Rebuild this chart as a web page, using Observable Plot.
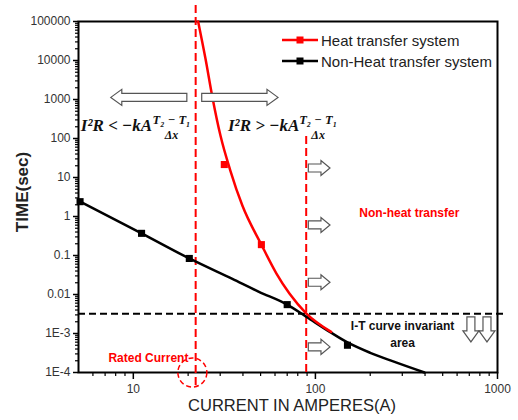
<!DOCTYPE html>
<html><head><meta charset="utf-8">
<script src="https://cdn.jsdelivr.net/npm/d3@7"></script>
<script src="https://cdn.jsdelivr.net/npm/@observablehq/plot@0.6"></script>
<style>
body{margin:0;background:#fff;}
#wrap{position:relative;width:518px;height:420px;}
.leg{position:absolute;left:281px;font-family:"Liberation Sans",Arial,sans-serif;font-size:15px;color:#222;display:flex;align-items:center;white-space:nowrap;height:20px;}
.leg svg{margin-right:2px;}
</style></head><body><div id="wrap"></div>
<script>
// ---- series ----
const heatCurrent = [22.7, 24.9, 27.2, 30.1, 34.1, 39.7, 50.5, 61, 72, 89, 122];
const heatTime    = [1e5, 11250, 1130, 119, 15.1, 1.91, 0.19, 0.035, 0.0106, 0.0033, 0.0011];
const heatMarkCurrent = [31.6, 50.5];
const heatMarkTime    = [21.5, 0.19];
const nonHeatCurrent = [5.1, 11.1, 20.3, 35, 49, 70, 89, 120, 150, 200, 265, 397];
const nonHeatTime    = [2.4, 0.37, 0.084, 0.025, 0.0117, 0.0055, 0.0027, 0.0011, 0.00059, 0.00032, 0.000195, 0.0001];
const nonHeatMarkCurrent = [5.1, 11.1, 20.3, 70, 150];
const nonHeatMarkTime    = [2.4, 0.37, 0.084, 0.0055, 0.0005];
const seriesNames  = ["Heat transfer system", "Non-Heat transfer system"];
const seriesColors = ["#ff0000", "#000000"];
// ---- ticks ----
const xTickValues = [10, 100, 1000];
const xTickLabels = ["10", "100", "1000"];
const xMinorTicks = [6, 7, 8, 9, 20, 30, 40, 50, 60, 70, 80, 90, 200, 300, 400, 500, 600, 700, 800, 900];
const yTickValues = [1e-4, 1e-3, 0.01, 0.1, 1, 10, 100, 1000, 10000, 100000];
const yTickLabels = ["1E-4", "1E-3", "0.01", "0.1", "1", "10", "100", "1000", "10000", "100000"];
const yMinorTicks = yTickValues.slice(0, -1).flatMap(d => [2,3,4,5,6,7,8,9].map(k => +(d*k).toPrecision(3)));
// ---- annotations ----
const ratedCurrent = 22;
const boundaryCurrent = 89, boundaryTop = 135;
const invariantTime = 0.0032;
const ratedCircle = {c: 21.1, t: 1e-4};
const textLabels = [
  {text: "Non-heat transfer", c: 328, t: 1.19, color: "#ff0000"},
  {text: "I-T curve invariant", c: 301, t: 0.0015, color: "#111"},
  {text: "area", c: 301, t: 0.00056, color: "#111"},
  {text: "Rated Current", c: 12.1, t: 0.00024, color: "#ff0000"}
];
const formulaMain = [{text: "I²R < −kA", c: 12.7, t: 215}, {text: "I²R > −kA", c: 81.6, t: 215}];
const formulaFracCurrent = [16.2, 103.5];
const formulaNum = "T₂ − T₁", formulaNumTime = 300;
const formulaDen = "Δx", formulaDenTime = 122;
const longArrows  = [{from: 19.8, to: 7.57, t: 1100}, {from: 23.9, to: 62.7, t: 1100}];
const smallArrowFrom = 92, smallArrowTo = 121;
const smallArrowTimes = [17, 0.59, 0.020, 0.00044];
const downArrowCurrents = [719, 881];
const downArrowFrom = 0.0026, downArrowTo = 0.00059;

const heat = heatCurrent.map((c, i) => ({c, t: heatTime[i]}));
const heatMarks = heatMarkCurrent.map((c, i) => ({c, t: heatMarkTime[i]}));
const nonHeat = nonHeatCurrent.map((c, i) => ({c, t: nonHeatTime[i]}));
const nonHeatMarks = nonHeatMarkCurrent.map((c, i) => ({c, t: nonHeatMarkTime[i]}));
const xLabelOf = new Map(xTickValues.map((v, i) => [v, xTickLabels[i]]));
const yLabelOf = new Map(yTickValues.map((v, i) => [v, yTickLabels[i]]));
const sans = "'Liberation Sans', Arial, sans-serif";
const serif = "'Liberation Serif', 'DejaVu Serif', serif";

const chart = Plot.plot({
  width: 518, height: 420,
  marginTop: 21, marginLeft: 78, marginRight: 21, marginBottom: 48,
  style: {fontFamily: sans, fontSize: "12px", background: "white", overflow: "visible"},
  x: {type: "log", domain: [5, 1000], label: null},
  y: {type: "log", domain: [1e-4, 1e5], label: null},
  marks: [
    Plot.axisY(yMinorTicks, {tickSize: 3, tickFormat: () => "", label: null, strokeWidth: 1.2}),
    Plot.axisY(yTickValues, {tickSize: 5, tickPadding: 3, tickFormat: d => yLabelOf.get(d), label: null, strokeWidth: 1.5, fill: "#333", fontSize: 12}),
    Plot.axisX(xMinorTicks, {tickSize: 4, tickFormat: () => "", label: null, strokeWidth: 1.2}),
    Plot.axisX(xTickValues, {tickSize: 7, tickPadding: 5, tickFormat: d => xLabelOf.get(d), label: null, strokeWidth: 1.5, fill: "#333", fontSize: 12}),
    Plot.frame({stroke: "black", strokeWidth: 2}),
    Plot.ruleY([invariantTime], {stroke: "black", strokeWidth: 2, strokeDasharray: "7,4", insetRight: -10}),
    Plot.ruleX([ratedCurrent], {stroke: "#ff0000", strokeWidth: 2, strokeDasharray: "8,4", insetTop: -16, insetBottom: -13}),
    Plot.ruleX([boundaryCurrent], {y1: 1e-4, y2: boundaryTop, stroke: "#ff0000", strokeWidth: 2, strokeDasharray: "8,4"}),
    Plot.dot([ratedCircle], {x: "c", y: "t", r: 14.5, stroke: "#ff0000", strokeWidth: 1.5, strokeDasharray: "5,3", fill: "none"}),
    Plot.line(nonHeat, {x: "c", y: "t", stroke: "black", strokeWidth: 2.5, curve: "monotone-x"}),
    Plot.dot(nonHeatMarks, {x: "c", y: "t", symbol: "square", r: 4, fill: "black"}),
    Plot.line(heat, {x: "c", y: "t", stroke: "#ff0000", strokeWidth: 2.5, curve: "monotone-x"}),
    Plot.dot(heatMarks, {x: "c", y: "t", symbol: "square", r: 4, fill: "#ff0000"}),
    Plot.text(textLabels, {x: "c", y: "t", text: "text", fill: d => d.color, fontWeight: "bold", fontSize: 12, fontFamily: sans}),
    Plot.text(formulaMain, {x: "c", y: "t", text: "text", textAnchor: "end", fontSize: 17, fontWeight: "bold", fontStyle: "italic", fontFamily: serif, fill: "#111"}),
    Plot.text(formulaFracCurrent, {x: d => d, y: () => formulaNumTime, text: () => formulaNum, fontSize: 12.5, fontWeight: "bold", fontStyle: "italic", fontFamily: serif, fill: "#111"}),
    Plot.text(formulaFracCurrent, {x: d => d, y: () => formulaDenTime, text: () => formulaDen, fontSize: 12, fontWeight: "bold", fontStyle: "italic", fontFamily: serif, fill: "#111"}),
    Plot.text(["TIME(sec)"], {text: d => d, frameAnchor: "left", rotate: -90, dx: -56, dy: -5, textAnchor: "middle", lineAnchor: "middle", fontSize: 17, fontWeight: "bold", fontFamily: sans, fill: "#222"}),
    Plot.text(["CURRENT IN AMPERES(A)"], {text: d => d, frameAnchor: "bottom", dx: 4, dy: 33, textAnchor: "middle", lineAnchor: "middle", fontSize: 16.5, fontFamily: sans, fill: "#222"})
  ]
});

// hollow block arrows, placed through the plot's own scales
const sx = chart.scale("x"), sy = chart.scale("y");
function hArrow(x0, x1, y, h, H, L) {
  const s = Math.sign(x1 - x0), b = x1 - s * L;
  return `M${x0},${y-h}L${b},${y-h}L${b},${y-H}L${x1},${y}L${b},${y+H}L${b},${y+h}L${x0},${y+h}Z`;
}
function vArrow(x, y0, y1, h, H, L) {
  const s = Math.sign(y1 - y0), b = y1 - s * L;
  return `M${x-h},${y0}L${x-h},${b}L${x-H},${b}L${x},${y1}L${x+H},${b}L${x+h},${b}L${x+h},${y0}Z`;
}
const g = d3.select(chart).append("g").attr("fill", "white").attr("stroke", "#555").attr("stroke-width", 1.2);
longArrows.forEach(a => g.append("path").attr("d", hArrow(sx.apply(a.from), sx.apply(a.to), sy.apply(a.t), 4, 8, 11)));
smallArrowTimes.forEach(t => g.append("path").attr("d", hArrow(sx.apply(smallArrowFrom), sx.apply(smallArrowTo), sy.apply(t), 4, 7.5, 9)));
downArrowCurrents.forEach(c => g.append("path").attr("d", vArrow(sx.apply(c), sy.apply(downArrowFrom), sy.apply(downArrowTo), 4, 8, 11)));

const wrap = document.getElementById("wrap");
wrap.appendChild(chart);
seriesNames.forEach((name, i) => {
  const div = document.createElement("div");
  div.className = "leg";
  div.style.top = (30 + i * 21) + "px";
  div.innerHTML = `<svg width="38" height="10"><line x1="1" x2="37" y1="5" y2="5" stroke="${seriesColors[i]}" stroke-width="2.5"/><rect x="15.5" y="1.5" width="7" height="7" fill="${seriesColors[i]}"/></svg>`;
  div.appendChild(document.createTextNode(name));
  wrap.appendChild(div);
});
</script></body></html>
